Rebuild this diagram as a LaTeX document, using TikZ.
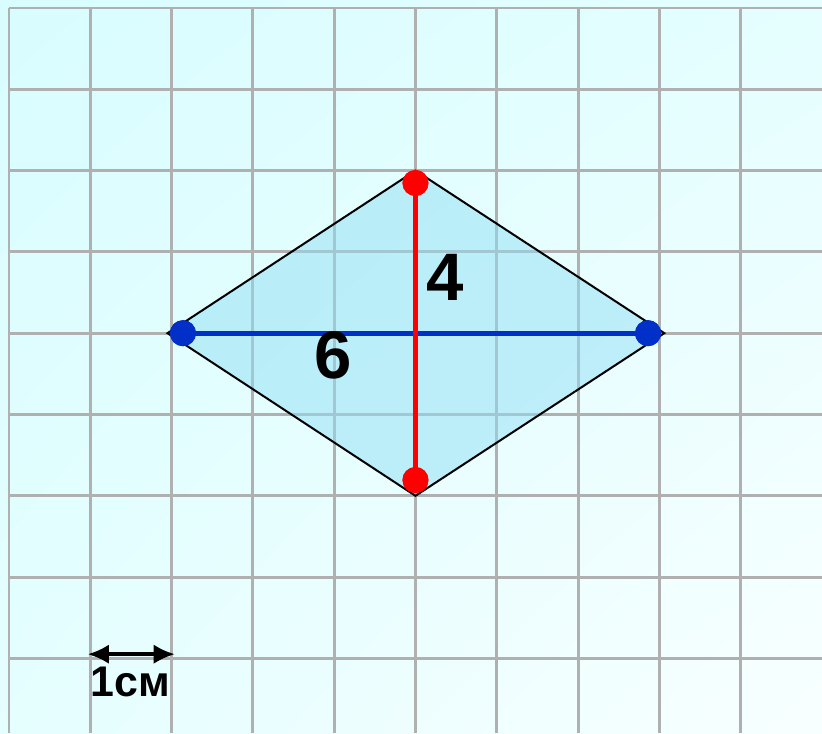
\documentclass[tikz,border=0pt]{standalone}
\usepackage{fontspec}
\setmainfont{Liberation Sans}
\usetikzlibrary{arrows.meta,positioning,shadings}
\definecolor{paperhi}{HTML}{D8FDFF}
\definecolor{paperlo}{HTML}{F8FFFF}
\definecolor{gridgray}{HTML}{B0B0B0}
\definecolor{rhombfill}{HTML}{91DFF5}
\definecolor{diagblue}{HTML}{0030C8}
\definecolor{diagred}{HTML}{FF0000}
\tikzset{
  gridline/.style={draw=gridgray,line width=1pt},
  rhomb/.style={fill=rhombfill,fill opacity=.5,draw=black,line width=.7pt},
  bluedot/.style={circle,fill=diagblue,inner sep=0pt,minimum size=.32cm},
  reddot/.style={circle,fill=diagred,inner sep=0pt,minimum size=.32cm},
  diag/.style={line width=1.8pt},
  numlabel/.style={font=\fontsize{23.5}{23.5}\selectfont\bfseries},
  unitlabel/.style={font=\fontsize{15}{15}\selectfont\bfseries},
  unitarrow/.style={{Latex[length=2.6mm,width=2.4mm]}-{Latex[length=2.6mm,width=2.4mm]},line width=1.2pt},
}

\begin{document}
\begin{tikzpicture}
			\useasboundingbox (0,0) rectangle (10.11,9.016);
			\shade[upper left=paperhi,lower right=paperlo,upper right=paperhi!60!paperlo,lower left=paperhi!60!paperlo] (0,0) rectangle (10.11,9.016);
			% grid
			\foreach \k in {0,...,9}
				\draw[gridline] (0.11+\k,0) -- (0.11+\k,8.918);
			\foreach \k in {0,...,8}
				\draw[gridline] (0.11,8.918-\k) -- (10.11,8.918-\k);
			% rhombus
			\coordinate (top) at (5.11,6.918);
			\coordinate (bot) at (5.11,2.918);
			\coordinate (lft) at (2.06,4.918);
			\coordinate (rgt) at (8.17,4.918);
			\filldraw[rhomb] (top)--(rgt)--(bot)--(lft)--cycle;
			\node[bluedot] (b1) at (2.25,4.918) {};
			\node[bluedot] (b2) at (7.97,4.918) {};
			\node[reddot] (r1) at (5.11,6.765) {};
			\node[reddot] (r2) at (5.11,3.112) {};
			\draw[diag,diagblue] (b1.center)--(b2.center);
			\draw[diag,diagred] (r1.center)--(r2.center);
			\node[bluedot] at (b1) {};
			\node[bluedot] at (b2) {};
			\node[reddot] at (r1) {};
			\node[reddot] at (r2) {};
			\node[numlabel] (four) at (5.47,5.6) {4};
			\node[numlabel] (six) at (4.10,4.64) {6};
			% unit
			\coordinate (u1) at (1.08,0.97);
			\coordinate (u2) at (2.15,0.97);
			\draw[unitarrow] (u1)--(u2);
			\node[unitlabel] (unit) at (1.60,0.63) {1см};
		\end{tikzpicture}
\end{document}
